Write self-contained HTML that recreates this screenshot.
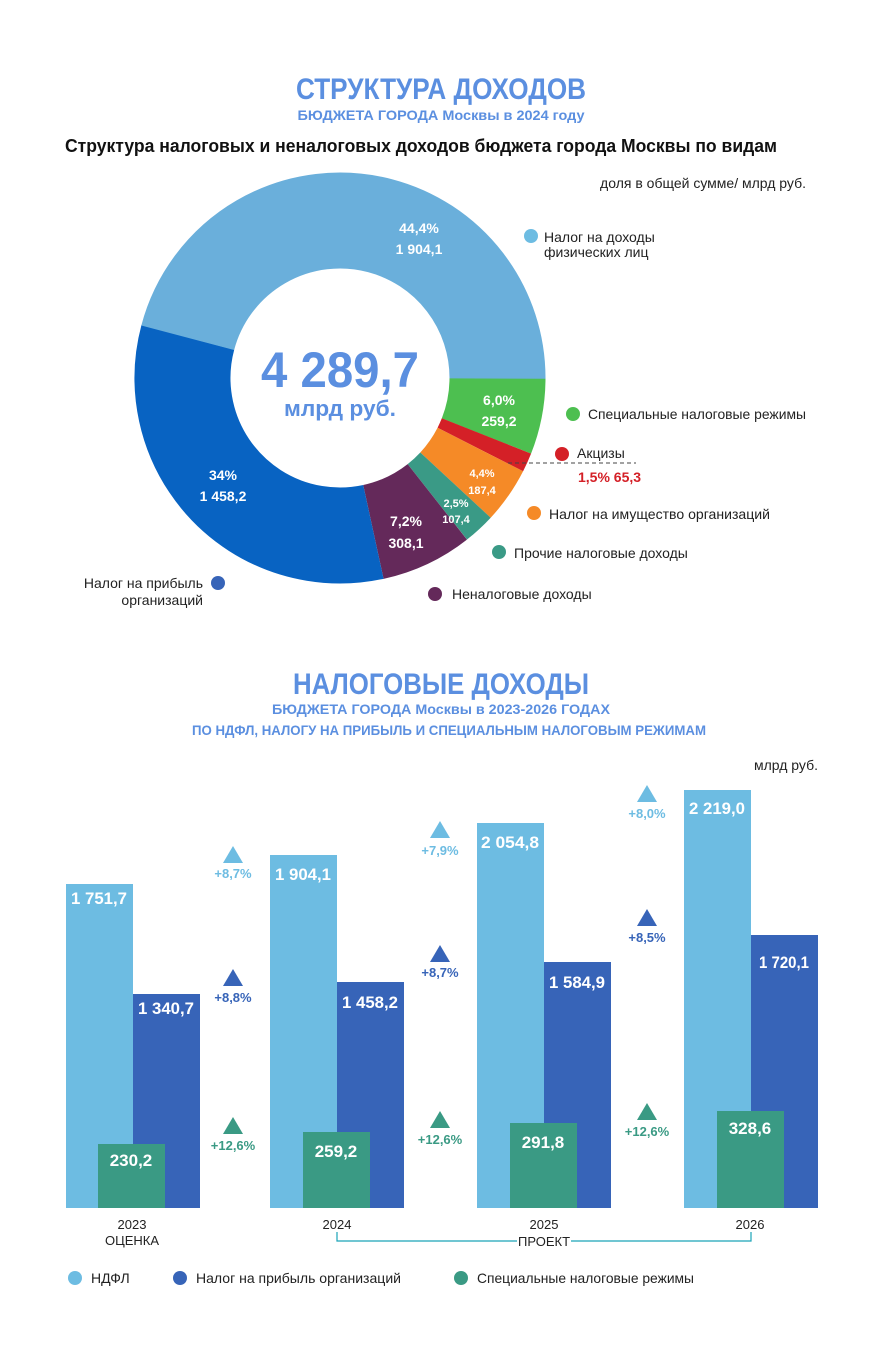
<!DOCTYPE html>
<html><head><meta charset="utf-8"><style>
html,body{margin:0;padding:0;background:#fff;}
svg{display:block;font-family:"Liberation Sans",sans-serif;}
.w{fill:#fff;font-weight:bold;}
</style></head><body>
<svg width="883" height="1359" viewBox="0 0 883 1359" xmlns="http://www.w3.org/2000/svg">
<text x="441" y="99" text-anchor="middle" font-size="30" font-weight="bold" fill="#5b8fe0" textLength="290" lengthAdjust="spacingAndGlyphs">СТРУКТУРА ДОХОДОВ</text>
<text x="441" y="120" text-anchor="middle" font-size="14" font-weight="bold" fill="#5b8fe0" textLength="287" lengthAdjust="spacingAndGlyphs">БЮДЖЕТА ГОРОДА Москвы в 2024 году</text>
<text x="421" y="152" text-anchor="middle" font-size="18" font-weight="bold" fill="#111" textLength="712" lengthAdjust="spacingAndGlyphs">Структура налоговых и неналоговых доходов бюджета города Москвы по видам</text>
<text x="806" y="188" text-anchor="end" font-size="14" fill="#222">доля в общей сумме/ млрд руб.</text>

<g fill="none" stroke-width="96">
<circle cx="340" cy="378" r="157.5" stroke="#4dbf50" stroke-dasharray="59.38 2000" transform="rotate(0 340 378)"/>
<circle cx="340" cy="378" r="157.5" stroke="#d42027" stroke-dasharray="14.84 2000" transform="rotate(21.6 340 378)"/>
<circle cx="340" cy="378" r="157.5" stroke="#f58a27" stroke-dasharray="43.54 2000" transform="rotate(27 340 378)"/>
<circle cx="340" cy="378" r="157.5" stroke="#3a9a86" stroke-dasharray="24.74 2000" transform="rotate(42.84 340 378)"/>
<circle cx="340" cy="378" r="157.5" stroke="#64295a" stroke-dasharray="71.25 2000" transform="rotate(51.84 340 378)"/>
<circle cx="340" cy="378" r="157.5" stroke="#0863c2" stroke-dasharray="322 2000" transform="rotate(77.76 340 378)"/>
<circle cx="340" cy="378" r="157.5" stroke="#6aafdb" stroke-dasharray="454.5 2000" transform="rotate(194.8 340 378)"/>
</g>
<text x="340" y="387" text-anchor="middle" font-size="50" font-weight="bold" fill="#5b8fe0" textLength="158" lengthAdjust="spacingAndGlyphs">4 289,7</text>
<text x="340" y="416" text-anchor="middle" font-size="22" font-weight="bold" fill="#5b8fe0" textLength="112" lengthAdjust="spacingAndGlyphs">млрд руб.</text>

<text class="w" x="419" y="233" text-anchor="middle" font-size="14">44,4%</text>
<text class="w" x="419" y="254" text-anchor="middle" font-size="14">1 904,1</text>
<text class="w" x="499" y="405" text-anchor="middle" font-size="14">6,0%</text>
<text class="w" x="499" y="426" text-anchor="middle" font-size="14">259,2</text>
<text class="w" x="482" y="477" text-anchor="middle" font-size="11">4,4%</text>
<text class="w" x="482" y="494" text-anchor="middle" font-size="11">187,4</text>
<text class="w" x="456" y="507" text-anchor="middle" font-size="11">2,5%</text>
<text class="w" x="456" y="523" text-anchor="middle" font-size="11">107,4</text>
<text class="w" x="406" y="526" text-anchor="middle" font-size="14">7,2%</text>
<text class="w" x="406" y="548" text-anchor="middle" font-size="14">308,1</text>
<text class="w" x="223" y="480" text-anchor="middle" font-size="14">34%</text>
<text class="w" x="223" y="501" text-anchor="middle" font-size="14">1 458,2</text>

<g font-size="14" fill="#222">
<circle cx="531" cy="236" r="7" fill="#6dbce2"/><text x="544" y="242">Налог на доходы</text><text x="544" y="257">физических лиц</text>
<circle cx="573" cy="414" r="7" fill="#4dbf50"/><text x="588" y="419" textLength="218" lengthAdjust="spacingAndGlyphs">Специальные налоговые режимы</text>
<circle cx="562" cy="454" r="7" fill="#d42027"/><text x="577" y="458">Акцизы</text>
<line x1="508" y1="463" x2="636" y2="463" stroke="#444" stroke-dasharray="4 3"/>
<text x="578" y="482" font-weight="bold" fill="#d42027">1,5%  65,3</text>
<circle cx="534" cy="513" r="7" fill="#f58a27"/><text x="549" y="519" textLength="221" lengthAdjust="spacingAndGlyphs">Налог на имущество организаций</text>
<circle cx="499" cy="552" r="7" fill="#3a9a86"/><text x="514" y="558">Прочие налоговые доходы</text>
<circle cx="435" cy="594" r="7" fill="#64295a"/><text x="452" y="599">Неналоговые доходы</text>
<circle cx="218" cy="583" r="7" fill="#3764b8"/><text x="203" y="588" text-anchor="end">Налог на прибыль</text><text x="203" y="605" text-anchor="end">организаций</text>
</g>

<text x="441" y="694" text-anchor="middle" font-size="30" font-weight="bold" fill="#5b8fe0" textLength="296" lengthAdjust="spacingAndGlyphs">НАЛОГОВЫЕ ДОХОДЫ</text>
<text x="441" y="714" text-anchor="middle" font-size="14" font-weight="bold" fill="#5b8fe0" textLength="338" lengthAdjust="spacingAndGlyphs">БЮДЖЕТА ГОРОДА Москвы в 2023-2026 ГОДАХ</text>
<text x="449" y="735" text-anchor="middle" font-size="14" font-weight="bold" fill="#5b8fe0" textLength="514" lengthAdjust="spacingAndGlyphs">ПО НДФЛ, НАЛОГУ НА ПРИБЫЛЬ И СПЕЦИАЛЬНЫМ НАЛОГОВЫМ РЕЖИМАМ</text>
<text x="818" y="770" text-anchor="end" font-size="14" fill="#222">млрд руб.</text>

<g>
<rect x="66" y="884" width="67" height="324" fill="#6dbce2"/><rect x="133" y="994" width="67" height="214" fill="#3764b8"/><rect x="98" y="1144" width="67" height="64" fill="#3a9a84"/>
<rect x="270" y="855" width="67" height="353" fill="#6dbce2"/><rect x="337" y="982" width="67" height="226" fill="#3764b8"/><rect x="303" y="1132" width="67" height="76" fill="#3a9a84"/>
<rect x="477" y="823" width="67" height="385" fill="#6dbce2"/><rect x="544" y="962" width="67" height="246" fill="#3764b8"/><rect x="510" y="1123" width="67" height="85" fill="#3a9a84"/>
<rect x="684" y="790" width="67" height="418" fill="#6dbce2"/><rect x="751" y="935" width="67" height="273" fill="#3764b8"/><rect x="717" y="1111" width="67" height="97" fill="#3a9a84"/>
</g>
<g class="w" font-size="17" text-anchor="middle">
<text x="99" y="904" textLength="56" lengthAdjust="spacingAndGlyphs">1 751,7</text><text x="166" y="1014" textLength="56" lengthAdjust="spacingAndGlyphs">1 340,7</text><text x="131" y="1166">230,2</text>
<text x="303" y="880" textLength="56" lengthAdjust="spacingAndGlyphs">1 904,1</text><text x="370" y="1008" textLength="56" lengthAdjust="spacingAndGlyphs">1 458,2</text><text x="336" y="1157">259,2</text>
<text x="510" y="848" textLength="58" lengthAdjust="spacingAndGlyphs">2 054,8</text><text x="577" y="988" textLength="56" lengthAdjust="spacingAndGlyphs">1 584,9</text><text x="543" y="1148">291,8</text>
<text x="717" y="814" textLength="56" lengthAdjust="spacingAndGlyphs">2 219,0</text><text x="784" y="968" textLength="50" lengthAdjust="spacingAndGlyphs">1 720,1</text><text x="750" y="1134">328,6</text>
</g>
<g font-size="13" font-weight="bold" text-anchor="middle">
<polygon points="233,846 243,863 223,863" fill="#6dbce2"/><text x="233" y="878" fill="#6dbce2">+8,7%</text>
<polygon points="233,969 243,986 223,986" fill="#3764b8"/><text x="233" y="1002" fill="#3764b8">+8,8%</text>
<polygon points="233,1117 243,1134 223,1134" fill="#3a9a84"/><text x="233" y="1150" fill="#3a9a84">+12,6%</text>
<polygon points="440,821 450,838 430,838" fill="#6dbce2"/><text x="440" y="855" fill="#6dbce2">+7,9%</text>
<polygon points="440,945 450,962 430,962" fill="#3764b8"/><text x="440" y="977" fill="#3764b8">+8,7%</text>
<polygon points="440,1111 450,1128 430,1128" fill="#3a9a84"/><text x="440" y="1144" fill="#3a9a84">+12,6%</text>
<polygon points="647,785 657,802 637,802" fill="#6dbce2"/><text x="647" y="818" fill="#6dbce2">+8,0%</text>
<polygon points="647,909 657,926 637,926" fill="#3764b8"/><text x="647" y="942" fill="#3764b8">+8,5%</text>
<polygon points="647,1103 657,1120 637,1120" fill="#3a9a84"/><text x="647" y="1136" fill="#3a9a84">+12,6%</text>
</g>
<g font-size="13" fill="#222" text-anchor="middle">
<text x="132" y="1229">2023</text><text x="132" y="1245">ОЦЕНКА</text>
<text x="337" y="1229">2024</text><text x="544" y="1229">2025</text><text x="750" y="1229">2026</text>
<text x="544" y="1246">ПРОЕКТ</text>
</g>
<path d="M337,1232 V1241 H517 M571,1241 H751 V1232" fill="none" stroke="#1aa3b8" stroke-width="1.2"/>
<g font-size="14" fill="#222">
<circle cx="75" cy="1278" r="7" fill="#6dbce2"/><text x="91" y="1283">НДФЛ</text>
<circle cx="180" cy="1278" r="7" fill="#3764b8"/><text x="196" y="1283" textLength="205" lengthAdjust="spacingAndGlyphs">Налог на прибыль организаций</text>
<circle cx="461" cy="1278" r="7" fill="#3a9a84"/><text x="477" y="1283" textLength="217" lengthAdjust="spacingAndGlyphs">Специальные налоговые режимы</text>
</g>
</svg>
</body></html>
